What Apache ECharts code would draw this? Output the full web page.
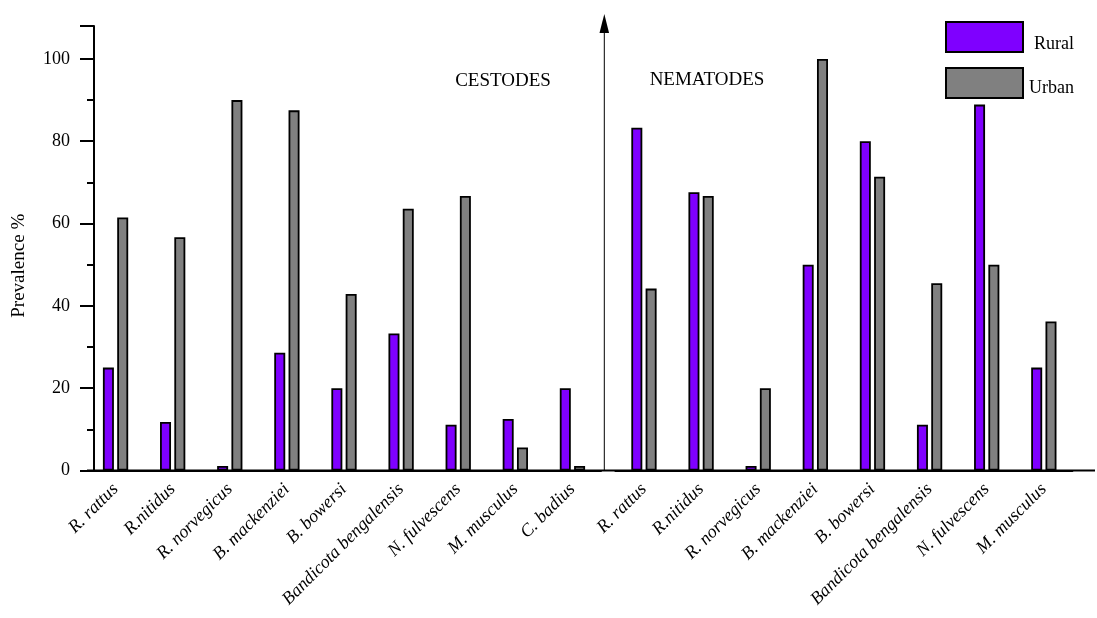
<!DOCTYPE html>
<html>
<head>
<meta charset="utf-8">
<script src="https://cdn.jsdelivr.net/npm/echarts@6/dist/echarts.min.js"></script>
<style>html,body{margin:0;padding:0;background:#fff;}#c{width:1097px;height:618px;}</style>
</head>
<body>
<div id="c"></div>
<script>
const cestodeSpecies = ['R. rattus','R.nitidus','R. norvegicus','B. mackenziei','B. bowersi','Bandicota bengalensis','N. fulvescens','M. musculus','C. badius'];
const nematodeSpecies = ['R. rattus','R.nitidus','R. norvegicus','B. mackenziei','B. bowersi','Bandicota bengalensis','N. fulvescens','M. musculus'];
const cestodeRural = [25, 11.8, 1.1, 28.6, 20, 33.3, 11.1, 12.5, 20];
const cestodeUrban = [61.5, 56.7, 90, 87.5, 42.9, 63.6, 66.7, 5.6, 1.1];
const nematodeRural = [83.3, 67.6, 1.1, 50, 80, 11.1, 88.9, 25];
const nematodeUrban = [44.2, 66.7, 20, 100, 71.4, 45.5, 50, 36.2];
const yTicks = [0, 20, 40, 60, 80, 100];

const FONT = '"Liberation Serif", "Times New Roman", serif';
const RURAL = '#7F00FF', URBAN = '#808080';
const chart = echarts.init(document.getElementById('c'), null, {renderer: 'canvas'});

const xAxisCommon = {
  type: 'category',
  axisLine: {show: true, lineStyle: {color: '#000', width: 2}},
  axisTick: {show: false},
  axisLabel: {rotate: 45, margin: 16, interval: 0, color: '#000', fontFamily: FONT, fontSize: 18, fontStyle: 'italic'},
  splitLine: {show: false}
};
const yAxisCommon = {
  type: 'value', min: 0, max: 108, interval: 20,
  splitLine: {show: false}
};
const barStyle = (c) => ({color: c, borderColor: '#000', borderWidth: 1.8});

chart.setOption({
  animation: false,
  backgroundColor: '#fff',
  grid: [
    {left: 87, width: 514, top: 26, bottom: 147.5, outerBoundsMode: 'none', containLabel: false},
    {left: 615.4, width: 457, top: 26, bottom: 147.5, outerBoundsMode: 'none', containLabel: false}
  ],
  legend: {
    orient: 'vertical', left: 945, top: 21, padding: 0,
    itemWidth: 77, itemHeight: 30, itemGap: 14, icon: 'rect',
    data: ['Rural', 'Urban'],
    formatter: (n) => n === 'Rural' ? '{r|' + n + '}' : '{u|' + n + '}',
    textStyle: {fontFamily: FONT, fontSize: 18, color: '#000',
      rich: {
        r: {fontFamily: FONT, fontSize: 18, color: '#000', padding: [14, 0, 0, 6]},
        u: {fontFamily: FONT, fontSize: 18, color: '#000', padding: [10, 0, 0, 1]}
      }}
  },
  xAxis: [
    Object.assign({}, xAxisCommon, {gridIndex: 0, data: cestodeSpecies}),
    Object.assign({}, xAxisCommon, {gridIndex: 1, data: nematodeSpecies})
  ],
  yAxis: [
    Object.assign({}, yAxisCommon, {
      gridIndex: 0, offset: -7,
      name: 'Prevalence %', nameLocation: 'middle', nameGap: 65, nameRotate: 90,
      nameTextStyle: {fontFamily: FONT, fontSize: 19, color: '#000', padding: [0, 35, 0, 0]},
      axisLine: {show: true, lineStyle: {color: '#000', width: 2}},
      axisTick: {show: true, length: 14, lineStyle: {color: '#000', width: 2}},
      minorTick: {show: true, splitNumber: 2, length: 7, lineStyle: {color: '#000', width: 2}},
      axisLabel: {color: '#000', fontFamily: FONT, fontSize: 18, margin: 24,
        formatter: (v) => yTicks.indexOf(v) >= 0 ? String(v) : ''}
    }),
    Object.assign({}, yAxisCommon, {
      gridIndex: 1, show: false
    })
  ],
  graphic: [
    {type: 'line', z: 1, shape: {x1: 87, y1: 470.5, x2: 1095, y2: 470.5}, style: {stroke: '#000', lineWidth: 2}},
    {type: 'line', z: 1, shape: {x1: 604.3, y1: 471, x2: 604.3, y2: 28}, style: {stroke: '#000', lineWidth: 1}},
    {type: 'polygon', z: 1, shape: {points: [[604.3, 14], [599.5, 33], [609.1, 33]]}, style: {fill: '#000'}},
    {type: 'text', z: 5, x: 503, y: 81, style: {text: 'CESTODES', fontFamily: FONT, fontSize: 19, fill: '#000', align: 'center', verticalAlign: 'middle'}},
    {type: 'text', z: 5, x: 707, y: 80, style: {text: 'NEMATODES', fontFamily: FONT, fontSize: 19, fill: '#000', align: 'center', verticalAlign: 'middle'}}
  ],
  series: [
    {name: 'Rural', type: 'bar', xAxisIndex: 0, yAxisIndex: 0, data: cestodeRural, barWidth: 11, barGap: '30%', itemStyle: barStyle(RURAL)},
    {name: 'Urban', type: 'bar', xAxisIndex: 0, yAxisIndex: 0, data: cestodeUrban, barWidth: 11, barGap: '30%', itemStyle: barStyle(URBAN)},
    {name: 'Rural', type: 'bar', xAxisIndex: 1, yAxisIndex: 1, data: nematodeRural, barWidth: 11, barGap: '30%', itemStyle: barStyle(RURAL)},
    {name: 'Urban', type: 'bar', xAxisIndex: 1, yAxisIndex: 1, data: nematodeUrban, barWidth: 11, barGap: '30%', itemStyle: barStyle(URBAN)}
  ]
});
</script>
</body>
</html>
